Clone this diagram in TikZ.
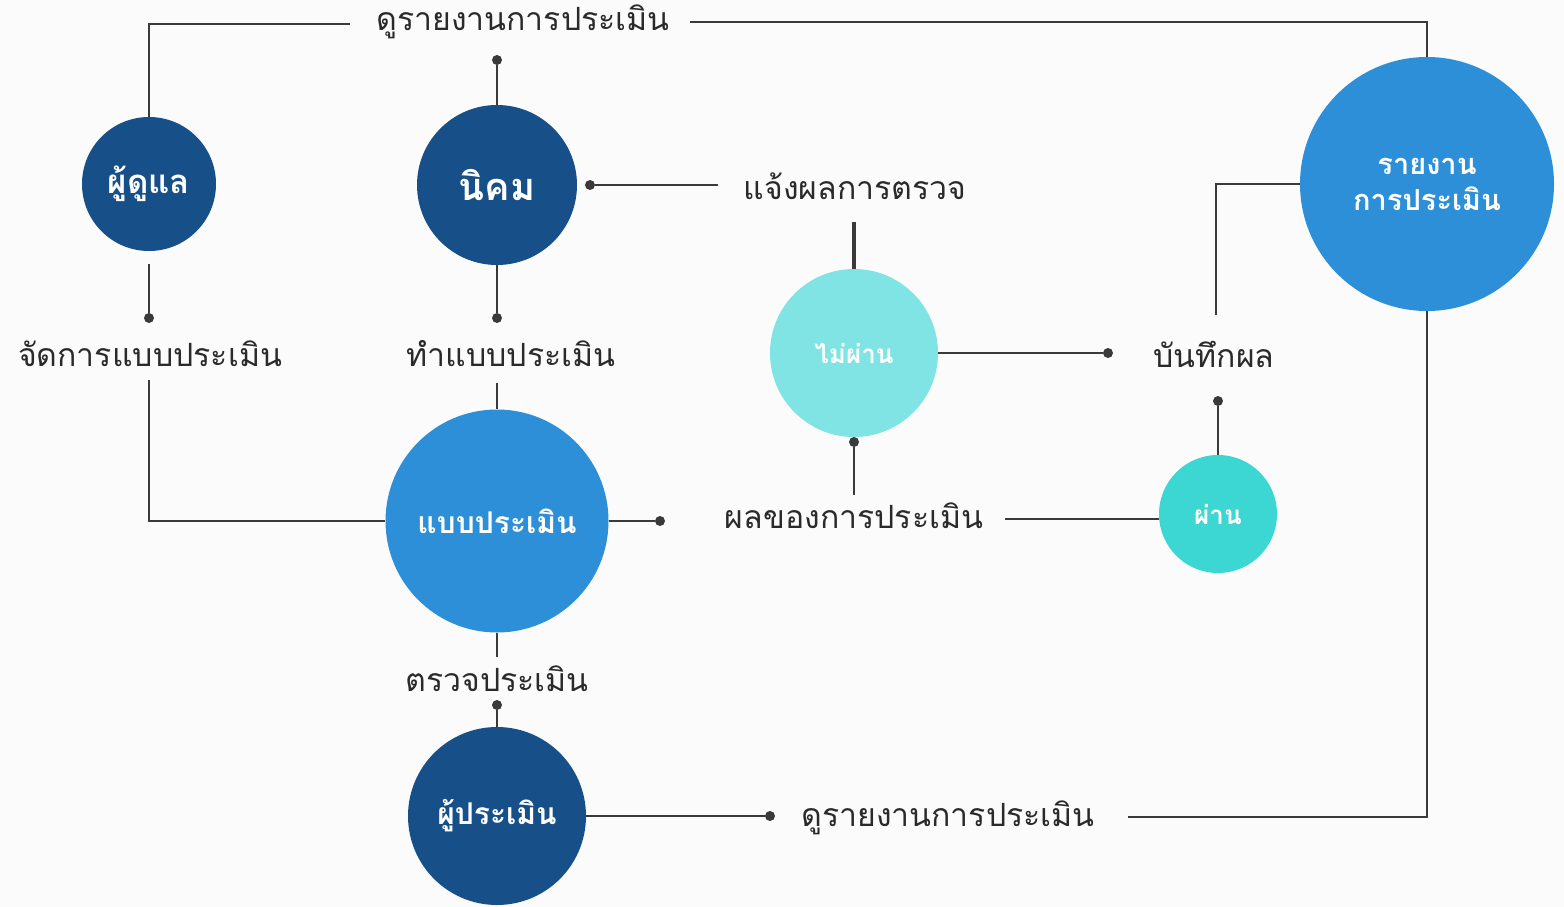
\documentclass[tikz,border=0pt]{standalone}
\usepackage{fontspec}
\newfontfamily\thai[Script=Thai]{Loma}
\usetikzlibrary{calc}
\definecolor{navy}{HTML}{175089}
\definecolor{midblue}{HTML}{2C8FD7}
\definecolor{lightcyan}{HTML}{80E4E4}
\definecolor{turq}{HTML}{3CD7D2}
\definecolor{bg}{HTML}{FCFBFC}
\definecolor{ln}{HTML}{3A3A3A}
\definecolor{txt}{HTML}{2A2A2A}
\newcommand\csz[1]{\thai\bfseries\fontsize{#1}{#1}\selectfont}
\begin{document}
\begin{tikzpicture}[x=1pt,y=-1pt,
 circ/.style={circle, inner sep=0pt, text=white, font=\csz{30}, align=center},
 lbl/.style={inner sep=0pt, font=\thai\fontsize{32}{34}\selectfont, text=txt},
 conn/.style={draw=ln, line width=2.2pt},
 thick conn/.style={draw=ln, line width=3.5pt},
 dotc/.style={fill=ln, circle, inner sep=0pt, minimum size=10pt}]
\fill[bg] (0,0) rectangle (1564,907);
\useasboundingbox (0,0) rectangle (1564,907);

% circles
\node[circ, fill=navy, minimum size=134pt, font=\csz{33}] (care) at (149,184) {ผู้ดูแล};
\node[circ, fill=navy, minimum size=160pt, font=\csz{38}] (nikom) at (497,185) {นิคม};
\node[circ, fill=midblue, minimum size=223pt, font=\csz{30}] (form) at (497,521) {แบบประเมิน};
\node[circ, fill=midblue, minimum size=254pt, font=\thai\bfseries\fontsize{29}{36}\selectfont] (report) at (1427,184) {รายงาน\\การประเมิน};
\node[circ, fill=lightcyan, minimum size=168pt, font=\csz{26}] (fail) at (854,353) {ไม่ผ่าน};
\node[circ, fill=turq, minimum size=118pt, font=\csz{26}] (pass) at (1218,514) {ผ่าน};
\node[circ, fill=navy, minimum size=178pt, font=\csz{30}] (assessor) at (497,816) {ผู้ประเมิน};

% labels
\node[lbl] (tview) at (523,22) {ดูรายงานการประเมิน};
\node[lbl] (tnotify) at (855,186) {แจ้งผลการตรวจ};
\node[lbl] (tmanage) at (150,354) {จัดการแบบประเมิน};
\node[lbl] (tmake) at (511,354) {ทำแบบประเมิน};
\node[lbl] (tsave) at (1214,354) {บันทึกผล};
\node[lbl] (tresult) at (854,516) {ผลของการประเมิน};
\node[lbl] (tcheck) at (497,679) {ตรวจประเมิน};
\node[lbl] (tview2) at (948,818) {ดูรายงานการประเมิน};

% free ends
\coordinate (a1) at (350,24);
\coordinate (a2) at (690,22);
\coordinate (a3) at (718,185);
\coordinate (a4) at (854,222);
\coordinate (a5) at (149,380);
\coordinate (a6) at (497,383);
\coordinate (a7) at (854,495);
\coordinate (a8) at (1005,519);
\coordinate (a9) at (1216,315);
\coordinate (a10) at (1128,817);
\coordinate (a11) at (497,657);

% dots
\node[dotc] (d1) at (497,60) {};
\node[dotc] (d2) at (590,185) {};
\node[dotc] (d3) at (149,318) {};
\node[dotc] (d4) at (497,318) {};
\node[dotc] (d5) at (660,521) {};
\node[dotc] (d6) at (1108,353) {};
\node[dotc] (d7) at (854,442) {};
\node[dotc] (d8) at (1218,401) {};
\node[dotc] (d9) at (770,816) {};
\node[dotc] (d10) at (497,705) {};

% connectors
\draw[conn] (care.north) |- (a1);
\draw[conn] (a2) -| (report.north);
\draw[conn] (d1) -- (nikom.north);
\draw[conn] (d2) -- (a3);
\draw[thick conn] (a4) -- (fail.north);
\draw[conn] ($(care.south)+(0,13)$) -- (d3);
\draw[conn] (nikom.south) -- (d4);
\draw[conn] (a5) |- (form.west);
\draw[conn] (a6) -- (form.north);
\draw[conn] (form.east) -- (d5);
\draw[conn] (fail.east) -- (d6);
\draw[conn] (d7) -- (a7);
\draw[conn] (a8) -- (a8 -| pass.west);
\draw[conn] (pass.north) -- (d8);
\draw[conn] (a9) |- (report.west);
\draw[conn] (report.south) |- (a10);
\draw[conn] (assessor.east) -- (d9);
\draw[conn] (form.south) -- (a11);
\draw[conn] (d10) -- (assessor.north);
\end{tikzpicture}
\end{document}
